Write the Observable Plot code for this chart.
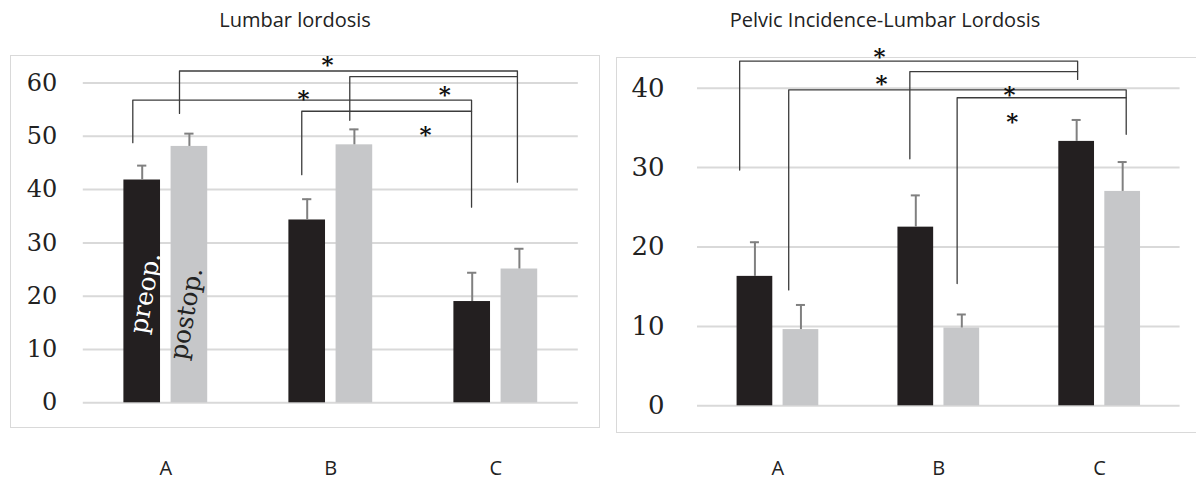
<!DOCTYPE html>
<html>
<head>
<meta charset="utf-8">
<script src="https://cdn.jsdelivr.net/npm/d3@7"></script>
<script src="https://cdn.jsdelivr.net/npm/@observablehq/plot@0.6"></script>
<style>
  html, body { margin: 0; padding: 0; background: white; }
  #wrap { position: relative; width: 1196px; height: 480px; overflow: hidden; background: white; }
  .box { position: absolute; border: 1.5px solid #d9d9d9; box-sizing: border-box; }
  .title { position: absolute; top: 6px; font-family: "Open Sans", sans-serif; font-size: 20px; line-height: 28px; color: #222; text-align: center; }
  .chart { position: absolute; top: 0; }
</style>
</head>
<body>
<div id="wrap">
  <div class="box" style="left:10px; top:55px; width:590px; height:373px;"></div>
  <div class="box" style="left:616px; top:57px; width:582px; height:376px;"></div>
  <div class="title" style="left:0px; width:590px;">Lumbar lordosis</div>
  <div class="title" style="left:600px; width:570px;">Pelvic Incidence-Lumbar Lordosis</div>
  <div class="chart" id="c1" style="left:0px;"></div>
  <div class="chart" id="c2" style="left:600px;"></div>
</div>
<script>
// ---------- data ----------
const groups = ["A", "B", "C"];
const seriesNames = ["preop.", "postop."];

const lumbarPre = [41.8, 34.3, 19.0];
const lumbarPreErr = [2.7, 3.9, 5.4];
const lumbarPost = [48.1, 48.4, 25.1];
const lumbarPostErr = [2.4, 2.9, 3.8];
const lumbarTicks = [0, 10, 20, 30, 40, 50, 60];

const piPre = [16.3, 22.5, 33.3];
const piPreErr = [4.3, 4.0, 2.7];
const piPost = [9.6, 9.8, 27.0];
const piPostErr = [3.1, 1.7, 3.7];
const piTicks = [0, 10, 20, 30, 40];

// significance brackets (x in category-index units, y in value units)
const lumbarBrackets = [
  {x1: -0.2, x2: 1.853, top: 56.8, left: 48.8, right: 36.7},
  {x1: 0.824, x2: 1.853, top: 54.7, left: 42.8, right: 54.7},
  {x1: 0.083, x2: 2.131, top: 62.25, left: 54.3, right: 41.4},
  {x1: 1.115, x2: 2.131, top: 61.2, left: 53.0, right: 61.2}
];
const lumbarStars = [
  {x: 0.98, y: 64.6}, {x: 0.835, y: 58.2}, {x: 1.69, y: 59.0}, {x: 1.574, y: 51.5}
];
const piBrackets = [
  {x1: -0.238, x2: 1.863, top: 43.4, left: 29.7, right: 41.1},
  {x1: 0.82, x2: 1.863, top: 42.1, left: 31.1, right: 42.1},
  {x1: 0.067, x2: 2.165, top: 39.8, left: 14.6, right: 34.2},
  {x1: 1.114, x2: 2.165, top: 38.8, left: 15.4, right: 38.8}
];
const piStars = [
  {x: 0.631, y: 44.8}, {x: 0.644, y: 41.4}, {x: 1.44, y: 40.0}, {x: 1.456, y: 36.6}
];
// in-bar series labels (left chart only)
const seriesLabelPos = [
  {x: -0.123, y: 20.6}, {x: 0.125, y: 16.75}
];

// ---------- drawing ----------
const OFF = 0.143, BW = 0.222, CAP = 0.028;
const PRE_COLOR = "#231f20", POST_COLOR = "#c6c7c9";

function rowsOf(vals, errs, off) {
  return groups.map((g, i) => ({g, i, v: vals[i], e: errs[i], c: i + off}));
}
function bracketPoints(brs) {
  const pts = [];
  brs.forEach((b, k) => {
    pts.push({k, x: b.x1, y: b.left});
    pts.push({k, x: b.x1, y: b.top});
    pts.push({k, x: b.x2, y: b.top});
    pts.push({k, x: b.x2, y: b.right});
  });
  return pts;
}

function makeChart(cfg) {
  const pre = rowsOf(cfg.pre, cfg.preErr, -OFF);
  const post = rowsOf(cfg.post, cfg.postErr, OFF);
  const all = pre.concat(post);
  const marks = [
    Plot.ruleY(cfg.ticks, {stroke: "#d9d9d9", strokeWidth: 2}),
    Plot.rectY(pre, {x1: d => d.c - BW / 2, x2: d => d.c + BW / 2, y1: 0, y2: "v", fill: PRE_COLOR}),
    Plot.rectY(post, {x1: d => d.c - BW / 2, x2: d => d.c + BW / 2, y1: 0, y2: "v", fill: POST_COLOR}),
    Plot.ruleX(all, {x: "c", y1: "v", y2: d => d.v + d.e, stroke: "#808080", strokeWidth: 2}),
    Plot.ruleY(all, {y: d => d.v + d.e, x1: d => d.c - CAP, x2: d => d.c + CAP, stroke: "#808080", strokeWidth: 2}),
    Plot.line(bracketPoints(cfg.brackets), {x: "x", y: "y", z: "k", stroke: "#3c3c3c", strokeWidth: 1.3}),
    Plot.text(cfg.stars, {x: "x", y: "y", text: () => "*", fontFamily: "DejaVu Serif", fontWeight: "bold", fontSize: 23, fill: "#111", dy: 6.5}),
    Plot.axisY({ticks: cfg.ticks, tickSize: 0, tickPadding: cfg.yPad, fontSize: cfg.yFont, fontFamily: "DejaVu Serif", fill: "#222", label: null}),
    Plot.axisX({ticks: [0, 1, 2], tickFormat: i => groups[i], tickSize: 0, tickPadding: cfg.xPad, fontSize: 20, fontFamily: "Open Sans", fill: "#222", label: null})
  ];
  if (cfg.labels) {
    marks.push(Plot.text([seriesLabelPos[0]], {x: "x", y: "y", text: () => seriesNames[0], rotate: -80, fontFamily: "DejaVu Serif", fontSize: 25, fill: "white"}));
    marks.push(Plot.text([seriesLabelPos[1]], {x: "x", y: "y", text: () => seriesNames[1], rotate: -80, fontFamily: "DejaVu Serif", fontSize: 25, fill: "#222"}));
  }
  return Plot.plot({
    width: cfg.width,
    height: 480,
    marginLeft: cfg.ml,
    marginRight: cfg.mr,
    marginTop: cfg.mt,
    marginBottom: cfg.mb,
    style: {background: "transparent", overflow: "visible"},
    x: {domain: [-0.5, 2.5], axis: null},
    y: {domain: cfg.domain, axis: null},
    marks
  });
}

document.getElementById("c1").append(makeChart({
  pre: lumbarPre, preErr: lumbarPreErr, post: lumbarPost, postErr: lumbarPostErr,
  ticks: lumbarTicks, domain: [0, 60], brackets: lumbarBrackets, stars: lumbarStars,
  width: 600, ml: 82.8, mr: 22.2, mt: 82.5, mb: 77.7, yPad: 26, yFont: 24, xPad: 57.7, labels: true
}));
document.getElementById("c2").append(makeChart({
  pre: piPre, preErr: piPreErr, post: piPost, postErr: piPostErr,
  ticks: piTicks, domain: [0, 40], brackets: piBrackets, stars: piStars,
  width: 596, ml: 97, mr: 16.4, mt: 87.7, mb: 74.7, yPad: 33, yFont: 26, xPad: 54.7, labels: false
}));
</script>
</body>
</html>
